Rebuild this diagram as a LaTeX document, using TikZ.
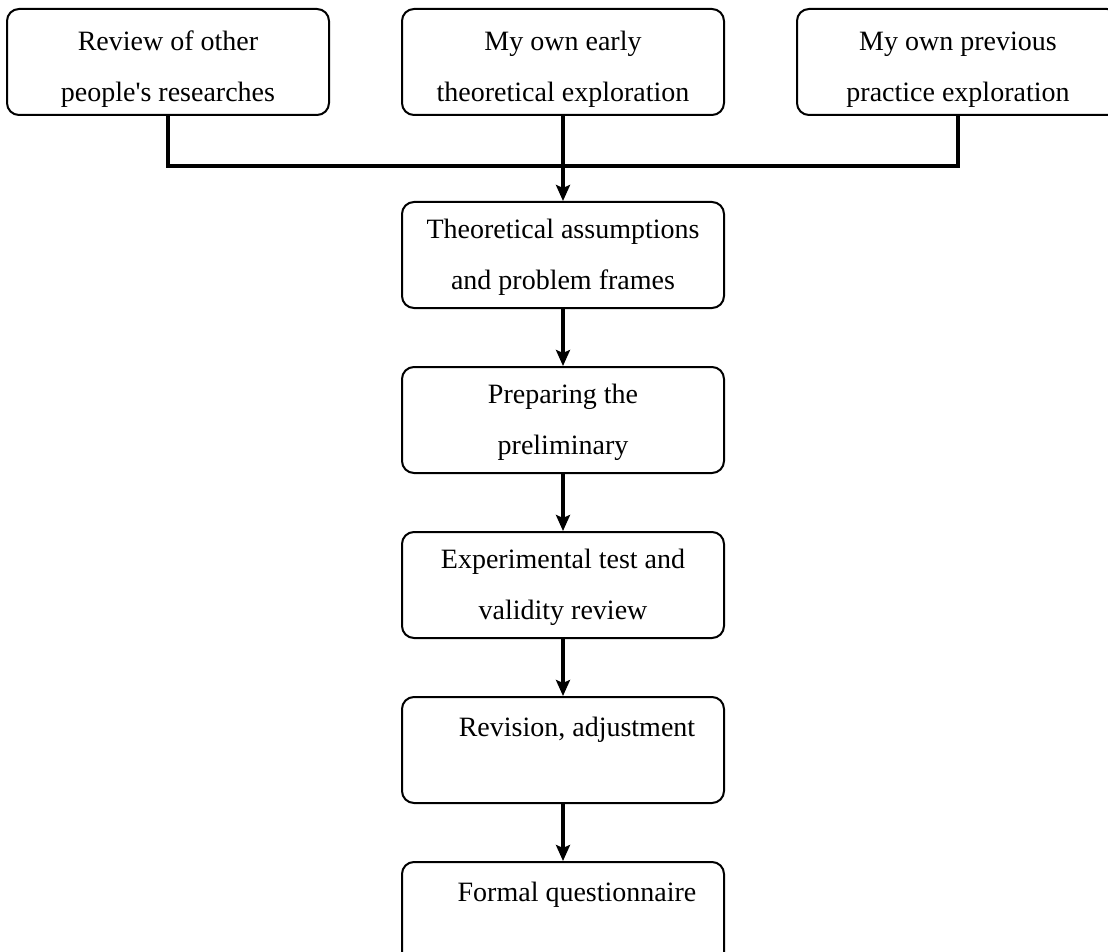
\documentclass[tikz,border=0pt]{standalone}
\usepackage{fontspec}
\setmainfont{Liberation Serif}
\usetikzlibrary{positioning,arrows.meta,calc}
\newcommand{\tstrut}{\rule{0pt}{17pt}}
\newcommand{\sstrut}{\rule{0pt}{12pt}}
\tikzset{
  stagebox/.style={rectangle,rounded corners=6pt,draw=black,line width=1pt,
    minimum width=161pt,minimum height=53pt,align=center,inner sep=2pt,
    font=\fontsize{14pt}{25.5pt}\selectfont},
  bus/.style={line width=1.7pt},
  flow/.style={line width=1.7pt,-{Stealth[length=8pt,width=7pt,inset=1.5pt]}},
  node distance=28.5pt
}

\begin{document}
\begin{tikzpicture}
  \useasboundingbox (0,0) rectangle (554pt,-476pt);
  \clip (0,0) rectangle (554pt,-476pt);

  % three sources on top
  \node [stagebox] (in2) at (281.5pt,-31pt) {\tstrut My own early\\theoretical exploration};
  \node [stagebox,left=35.5pt of in2] (in1) {\tstrut Review of other\\people\textquotesingle s researches};
  \node [stagebox,right=35.5pt of in2] (in3) {\tstrut My own previous\\practice exploration};

  % main chain
  \node [stagebox,below=42.5pt of in2] (s1) {\sstrut Theoretical assumptions\\and problem frames};
  \node [stagebox,below=of s1] (s2) {\sstrut Preparing the\\preliminary};
  \node [stagebox,below=of s2] (s3) {\sstrut Experimental test and\\validity review};
  \node [stagebox,below=of s3] (s4) {\sstrut\hspace*{1em}Revision, adjustment\\\mbox{}};
  \node [stagebox,below=of s4] (s5) {\sstrut\hspace*{1em}Formal questionnaire\\\mbox{}};

  \coordinate (join) at ($(in2.south)+(0,-25pt)$);
  \draw [bus] (in1.south) |- (join) -| (in3.south);
  \draw [flow] (in2.south) -- (s1.north);
  \draw [flow] (s1) -- (s2);
  \draw [flow] (s2) -- (s3);
  \draw [flow] (s3) -- (s4);
  \draw [flow] (s4) -- (s5);
\end{tikzpicture}
\end{document}
